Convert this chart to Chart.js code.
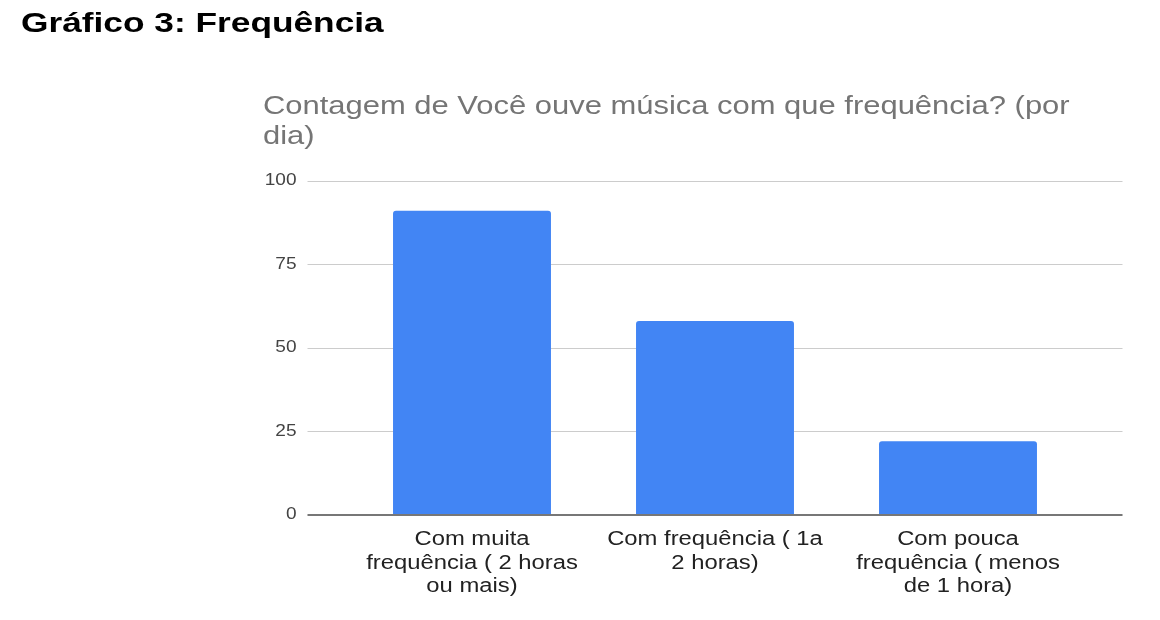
<!DOCTYPE html>
<html>
<head>
<meta charset="utf-8">
<script src="https://cdn.jsdelivr.net/npm/chart.js@4/dist/chart.umd.min.js"></script>
<style>
  html, body { margin: 0; padding: 0; background: #ffffff; }
  #wrap { position: relative; width: 1160px; height: 620px; overflow: hidden; }
  #heading { position: absolute; left: 21px; top: 5px; font-family: "Liberation Sans", Arial, sans-serif; font-weight: bold; font-size: 28px; color: #000; line-height: 36px; white-space: nowrap; transform: scaleX(1.26); transform-origin: left top; }
  canvas { position: absolute; left: 0; top: 0; }
</style>
</head>
<body>
<div id="wrap">
  <canvas id="c" width="1160" height="620"></canvas>
  <div id="heading">Gráfico 3: Frequência</div>
</div>
<script>
const chartTitle = ["Contagem de Você ouve música com que frequência? (por", "dia)"];
const categories = [
  ["Com muita", "frequência ( 2 horas", "ou mais)"],
  ["Com frequência ( 1a", "2 horas)"],
  ["Com pouca", "frequência ( menos", "de 1 hora)"]
];
const counts = [91, 58, 22];
const yTicks = [0, 25, 50, 75, 100];

const FONT = '"Liberation Sans", Arial, sans-serif';
const TEXT_STRETCH = 1.19; // the reference's text is horizontally widened

const canvas = document.getElementById('c');
const ctx2d = canvas.getContext('2d');
const origFillText = ctx2d.fillText.bind(ctx2d);
ctx2d.fillText = function (text, x, y, maxWidth) {
  this.save();
  this.translate(x, y);
  this.scale(TEXT_STRETCH, 1);
  if (maxWidth === undefined) origFillText(text, 0, 0);
  else origFillText(text, 0, 0, maxWidth);
  this.restore();
};

const gridPlugin = {
  id: 'extendedGrid',
  beforeDatasetsDraw(chart) {
    const { ctx, chartArea, scales } = chart;
    const y = scales.y;
    const ext = 43;
    ctx.save();
    ctx.strokeStyle = '#cccccc';
    ctx.lineWidth = 1;
    yTicks.forEach(v => {
      if (v === 0) return;
      const py = Math.round(y.getPixelForValue(v));
      ctx.beginPath();
      ctx.moveTo(chartArea.left - ext, py + 0.5);
      ctx.lineTo(chartArea.right + ext, py + 0.5);
      ctx.stroke();
    });
    ctx.restore();
  },
  afterDatasetsDraw(chart) {
    const { ctx, chartArea, scales } = chart;
    const y = scales.y;
    const ext = 43;
    const py = Math.round(y.getPixelForValue(0));
    ctx.save();
    ctx.strokeStyle = '#777777';
    ctx.lineWidth = 2;
    ctx.beginPath();
    ctx.moveTo(chartArea.left - ext, py);
    ctx.lineTo(chartArea.right + ext, py);
    ctx.stroke();
    ctx.restore();
  }
};

new Chart(canvas, {
  type: 'bar',
  data: {
    labels: categories,
    datasets: [{
      data: counts,
      backgroundColor: '#4285f4',
      borderWidth: 0,
      borderRadius: { topLeft: 3, topRight: 3, bottomLeft: 0, bottomRight: 0 },
      borderSkipped: 'bottom',
      categoryPercentage: 1,
      barPercentage: 0.65
    }]
  },
  options: {
    responsive: false,
    animation: false,
    devicePixelRatio: 1,
    layout: { padding: { left: 263, right: 80.5, top: 0, bottom: 0 } },
    plugins: {
      legend: { display: false },
      tooltip: { enabled: false },
      title: {
        display: true,
        text: chartTitle,
        align: 'start',
        color: '#757575',
        font: { family: FONT, size: 26, weight: 'normal', lineHeight: 1.15 },
        padding: { top: 92, bottom: 29 }
      }
    },
    scales: {
      x: {
        grid: { display: false, drawTicks: false },
        border: { display: false },
        ticks: {
          color: '#222222',
          font: { family: FONT, size: 20, lineHeight: 1.165 },
          padding: 13.5,
          maxRotation: 0,
          autoSkip: false
        },
        afterFit(scale) { scale.height = 105.3; }
      },
      y: {
        min: 0,
        max: 100,
        grid: { display: false, drawTicks: false },
        border: { display: false },
        ticks: {
          stepSize: 25,
          color: '#444444',
          font: { family: FONT, size: 16 },
          padding: 54
        },
        afterFit(scale) { scale.width = 87.5; }
      }
    }
  },
  plugins: [gridPlugin]
});
</script>
</body>
</html>
